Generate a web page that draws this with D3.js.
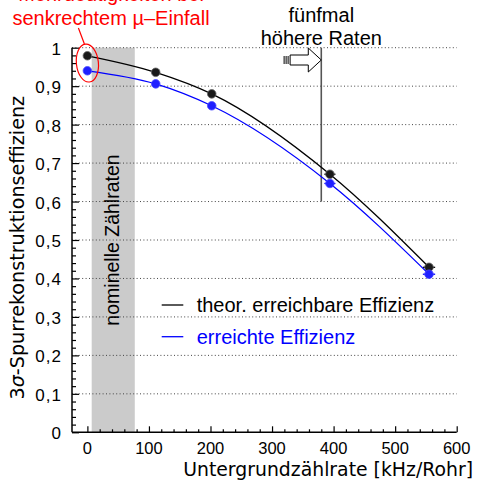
<!DOCTYPE html>
<html lang="de">
<head>
<meta charset="UTF-8">
<title>Spurrekonstruktionseffizienz</title>
<style>
  body { margin: 0; background: #fff; }
  svg { display: block; font-family: "Liberation Sans", Arial, sans-serif; }
</style>
</head>
<body>
<script src="https://d3js.org/d3.v7.min.js"></script>
<div id="chart"></div>
<script>

// data
const rates      = [0, 111, 202, 394, 555];          // kHz/Rohr
const rateErr    = [2, 3, 5, 9, 10];
const effTheo    = [0.979, 0.936, 0.880, 0.671, 0.429];
const effReached = [0.940, 0.906, 0.849, 0.647, 0.411];
const xTicks = [0, 100, 200, 300, 400, 500, 600];
const yTicks = [0, 0.1, 0.2, 0.3, 0.4, 0.5, 0.6, 0.7, 0.8, 0.9, 1];
const nominalBand = [7, 77];
const fiveTimesRate = 380;
const legendLabels = ["theor. erreichbare Effizienz", "erreichte Effizienz"];
const seriesColors = ["#000000", "#0000ff"];

const width = 477, height = 483;

const svg = d3.select("#chart").append("svg")
  .attr("width", width)
  .attr("height", height);

const x = d3.scaleLinear().domain([-25, 600]).range([72, 456.7]);
const y = d3.scaleLinear().domain([0, 1]).range([432.3, 47.7]);

// grey band "nominelle Zählraten"
svg.append("rect")
  .attr("x", x(nominalBand[0]))
  .attr("y", y(1))
  .attr("width", x(nominalBand[1]) - x(nominalBand[0]))
  .attr("height", y(0) - y(1))
  .attr("fill", "#cbcbcb");

svg.append("text")
  .attr("transform", "translate(" + (x((nominalBand[0] + nominalBand[1]) / 2) + 6) + "," + y(0.5) + ") rotate(-90)")
  .attr("text-anchor", "middle")
  .style("font-size", "19.5px")
  .text("nominelle Zählraten");

// dotted grid
svg.append("g").selectAll("line")
  .data(yTicks.slice(1))
  .enter().append("line")
  .attr("x1", x.range()[0]).attr("x2", x.range()[1])
  .attr("y1", d => y(d)).attr("y2", d => y(d))
  .attr("stroke", "#444")
  .attr("stroke-width", 1)
  .attr("stroke-dasharray", "1,2.4");

// axes: ticks pointing inward
const xAxis = svg.append("g").attr("transform", "translate(0," + y(0) + ")");
xAxis.call(d3.axisTop(x).tickValues(d3.range(0, 601, 20)).tickSize(3).tickFormat(""));
xAxis.call(g => g.selectAll(".tick line").filter(d => d % 100 === 0).attr("y2", -6));
xAxis.select(".domain").attr("stroke-width", 1.5).attr("d", "M" + x.range()[0] + ",0H" + x.range()[1]);
xAxis.selectAll(".tick line").attr("stroke-width", 1.2);

svg.append("g").selectAll("text")
  .data(xTicks)
  .enter().append("text")
  .attr("x", d => x(d))
  .attr("y", y(0) + 22)
  .attr("text-anchor", "middle")
  .style("font-size", "16.5px")
  .text(d => d);

const yAxis = svg.append("g").attr("transform", "translate(" + x.range()[0] + ",0)");
yAxis.call(d3.axisRight(y).tickValues(d3.range(0, 51).map(i => i / 50)).tickSize(4).tickFormat(""));
yAxis.call(g => g.selectAll(".tick line").filter(d => Math.abs(d * 10 - Math.round(d * 10)) < 1e-6).attr("x2", 7));
yAxis.select(".domain").attr("stroke-width", 1.5).attr("d", "M0," + y(0) + "V" + y(1));
yAxis.selectAll(".tick line").attr("stroke-width", 1.2);

svg.append("g").selectAll("text")
  .data(yTicks)
  .enter().append("text")
  .attr("x", x.range()[0] - 10)
  .attr("y", d => y(d) + 7)
  .attr("text-anchor", "end")
  .style("font-size", "17px")
  .style("letter-spacing", "1px")
  .text(d => d === 0 ? "0" : d === 1 ? "1" : d3.format(".1f")(d).replace(".", ","));

// axis titles, scaled to the width they take in the original
function fitLength(sel, target) {
  const len = sel.node().getComputedTextLength();
  const fs = parseFloat(sel.style("font-size"));
  sel.style("font-size", (fs * target / len) + "px");
}

const xTitle = svg.append("text")
  .attr("x", 473)
  .attr("y", 476)
  .attr("text-anchor", "end")
  .style("font-family", "'DejaVu Sans', sans-serif")
  .style("font-size", "17px")
  .text("Untergrundzählrate [kHz/Rohr]");
fitLength(xTitle, 290);

const yTitle = svg.append("text")
  .attr("transform", "translate(24," + y(0.48) + ") rotate(-90)")
  .attr("text-anchor", "middle")
  .style("font-family", "'DejaVu Sans', sans-serif")
  .style("font-size", "17px");
yTitle.append("tspan").text("3");
yTitle.append("tspan").style("font-style", "italic").text("σ");
yTitle.append("tspan").text("-Spurrekonstruktionseffizienz");
fitLength(yTitle, 304);

// five times higher rates: vertical line, arrow and label
svg.append("line")
  .attr("x1", x(fiveTimesRate)).attr("x2", x(fiveTimesRate))
  .attr("y1", y(1)).attr("y2", y(0.6))
  .attr("stroke", "#555")
  .attr("stroke-width", 1.6);

const ay = y(0.968);
const ax1 = x(fiveTimesRate), ax0 = x(fiveTimesRate - 62);
svg.append("path")
  .attr("d", "M" + (ax0 + 7) + "," + (ay - 5) + "H" + (ax1 - 13) + "V" + (ay - 12) +
             "L" + ax1 + "," + ay + "L" + (ax1 - 13) + "," + (ay + 12) +
             "V" + (ay + 5) + "H" + (ax0 + 7) + "Z")
  .attr("fill", "#fff")
  .attr("stroke", "#000")
  .attr("stroke-width", 1);
svg.append("g").selectAll("line")
  .data([1, 3, 5])
  .enter().append("line")
  .attr("x1", d => ax0 + d).attr("x2", d => ax0 + d)
  .attr("y1", ay - 4).attr("y2", ay + 4)
  .attr("stroke", "#000")
  .attr("stroke-width", 1);

svg.append("text")
  .attr("x", x(fiveTimesRate)).attr("y", 21.5)
  .attr("text-anchor", "middle")
  .style("font-size", "20px")
  .text("fünfmal");
svg.append("text")
  .attr("x", x(fiveTimesRate)).attr("y", 45)
  .attr("text-anchor", "middle")
  .style("font-size", "20px")
  .text("höhere Raten");

// curves and points
const line = d3.line()
  .x(d => x(d[0]))
  .y(d => y(d[1]))
  .curve(d3.curveMonotoneX);

[effTheo, effReached].forEach((series, k) => {
  const pts = rates.map((r, i) => [r, series[i]]);
  svg.append("path")
    .datum(pts)
    .attr("d", line)
    .attr("fill", "none")
    .attr("stroke", seriesColors[k])
    .attr("stroke-width", 1.3);

  const g = svg.append("g");
  g.selectAll("line")
    .data(pts)
    .enter().append("line")
    .attr("x1", (d, i) => x(d[0] - rateErr[i]))
    .attr("x2", (d, i) => x(d[0] + rateErr[i]))
    .attr("y1", d => y(d[1])).attr("y2", d => y(d[1]))
    .attr("stroke", seriesColors[k])
    .attr("stroke-width", 1.3);
  g.selectAll("circle")
    .data(pts)
    .enter().append("circle")
    .attr("cx", d => x(d[0]))
    .attr("cy", d => y(d[1]))
    .attr("r", 4.3)
    .attr("fill", k === 0 ? "#1a1a1a" : "#1f1fff")
    .attr("stroke", k === 0 ? "#666" : "#4d4dff")
    .attr("stroke-width", 0.8);
});

// legend
legendLabels.forEach((lab, k) => {
  const ly = 305 + k * 31.7;
  svg.append("line")
    .attr("x1", 161.7).attr("x2", 183.3)
    .attr("y1", ly).attr("y2", ly)
    .attr("stroke", seriesColors[k])
    .attr("stroke-width", 1.3);
  svg.append("text")
    .attr("x", 196.7).attr("y", ly + 7)
    .style("font-size", "20px")
    .attr("fill", seriesColors[k])
    .text(lab);
});

// red annotation
svg.append("ellipse")
  .attr("cx", x(0)).attr("cy", y(0.96))
  .attr("rx", 11).attr("ry", 19)
  .attr("transform", "rotate(-6," + x(0) + "," + y(0.96) + ")")
  .attr("fill", "none")
  .attr("stroke", "#ff0000")
  .attr("stroke-width", 1.2);
svg.append("line")
  .attr("x1", x(0) - 3).attr("y1", y(0.96) - 19)
  .attr("x2", x(0) - 9).attr("y2", 28)
  .attr("stroke", "#ff0000")
  .attr("stroke-width", 1.2);

svg.append("text")
  .attr("x", 111).attr("y", 1)
  .attr("text-anchor", "middle")
  .attr("fill", "#ff0000")
  .style("font-size", "20px")
  .text("Mehrdeutigkeiten bei");
svg.append("text")
  .attr("x", 111).attr("y", 25)
  .attr("text-anchor", "middle")
  .attr("fill", "#ff0000")
  .style("font-size", "20px")
  .text("senkrechtem µ–Einfall");

</script>
</body>
</html>
